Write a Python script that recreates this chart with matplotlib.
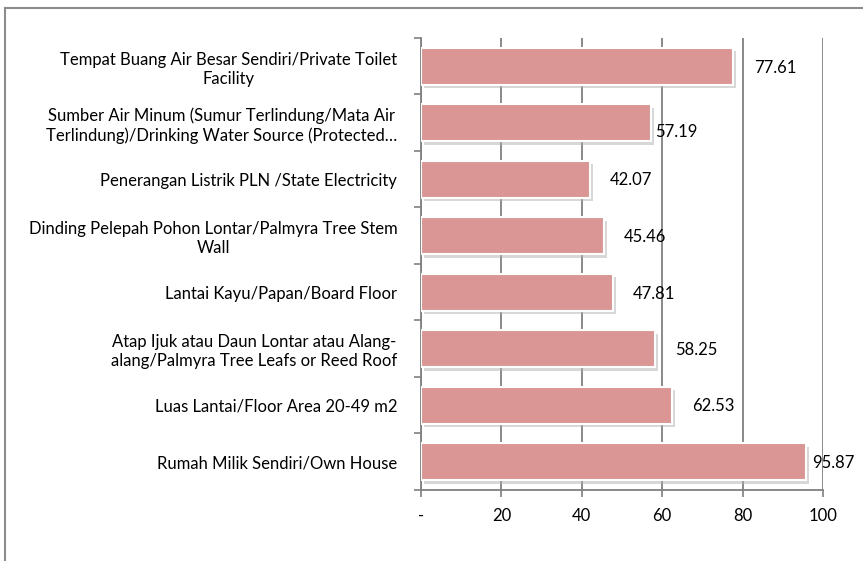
import matplotlib

matplotlib.use("Agg")

import matplotlib.pyplot as plt  # noqa: E402
import matplotlib.patheffects as pe  # noqa: E402
from matplotlib.lines import Line2D  # noqa: E402

# Categories (top to bottom as shown)
CATEGORIES = [
    "Tempat Buang Air Besar Sendiri/Private Toilet\nFacility",
    "Sumber Air Minum (Sumur Terlindung/Mata Air\nTerlindung)/Drinking Water Source (Protected\u2026",
    "Penerangan Listrik PLN /State Electricity",
    "Dinding Pelepah Pohon Lontar/Palmyra Tree Stem\nWall",
    "Lantai Kayu/Papan/Board Floor",
    "Atap Ijuk atau Daun Lontar atau Alang-\nalang/Palmyra Tree Leafs or Reed Roof",
    "Luas Lantai/Floor Area 20-49 m2",
    "Rumah Milik Sendiri/Own House",
]
VALUES = [77.61, 57.19, 42.07, 45.46, 47.81, 58.25, 62.53, 95.87]

XTICKS = [0, 20, 40, 60, 80, 100]
XTICK_LABELS = ["-", "20", "40", "60", "80", "100"]

# label placement tweaks (x offset in data units, y offset in category units)
LABEL_DX = [10.5, 6.4, 10.1, 10.2, 10.1, 10.3, 10.1, 6.8]
LABEL_DY = [0.03, 0.17, 0.02, 0.02, 0.03, 0.02, 0.02, 0.02]

BAR_COLOR = "#D99694"
GRID_COLOR = "#808080"

plt.rcParams["font.family"] = ["Lato", "DejaVu Sans"]

fig = plt.figure(figsize=(8.63, 5.61), dpi=100)
ax = fig.add_axes([0.4878, 0.1266, 0.4659, 0.8057])

ypos = list(range(len(CATEGORIES)))
bars = ax.barh(
    ypos, VALUES, height=0.66, color=BAR_COLOR,
    edgecolor="white", linewidth=1.5, zorder=3,
)
for b in bars:
    b.set_path_effects([
        pe.SimplePatchShadow(offset=(2, -2.5), shadow_rgbFace="#b0b0b0", alpha=0.5),
        pe.Normal(),
    ])

for i, v in enumerate(VALUES):
    ax.text(
        v + LABEL_DX[i], i + LABEL_DY[i], f"{v:.2f}",
        ha="center", va="center", fontsize=12, color="black", zorder=4,
    )

ax.set_xlim(0, 100)
ax.set_ylim(len(CATEGORIES) - 0.5, -0.5)
ax.set_xticks(XTICKS)
ax.set_xticklabels(XTICK_LABELS, fontsize=12)
ax.set_yticks([i - 0.5 for i in range(len(CATEGORIES) + 1)], minor=False)
ax.set_yticklabels([""] * (len(CATEGORIES) + 1))
ax.set_yticks(ypos, minor=True)
ax.set_yticklabels(CATEGORIES, minor=True, fontsize=12, ha="right",
                   multialignment="center", linespacing=1.25)
ax.tick_params(axis="y", which="minor", length=0, pad=17)
ax.tick_params(axis="y", which="major", length=5, color=GRID_COLOR, width=1.2)
ax.tick_params(axis="x", length=5, color=GRID_COLOR, width=1.2, pad=8)

ax.grid(axis="x", color=GRID_COLOR, linewidth=1.3, zorder=0)
ax.set_axisbelow(True)
for side in ["top", "right"]:
    ax.spines[side].set_visible(False)
for side in ["left", "bottom"]:
    ax.spines[side].set_color(GRID_COLOR)
    ax.spines[side].set_linewidth(1.3)

# outer chart frame
fig.add_artist(Line2D([0.006, 0.006], [0.0, 0.986], transform=fig.transFigure,
                      color="#8c8c8c", linewidth=1.5))
fig.add_artist(Line2D([0.006, 1.0], [0.986, 0.986], transform=fig.transFigure,
                      color="#8c8c8c", linewidth=1.5))

fig.savefig("out.png", dpi=100)
plt.close(fig)
